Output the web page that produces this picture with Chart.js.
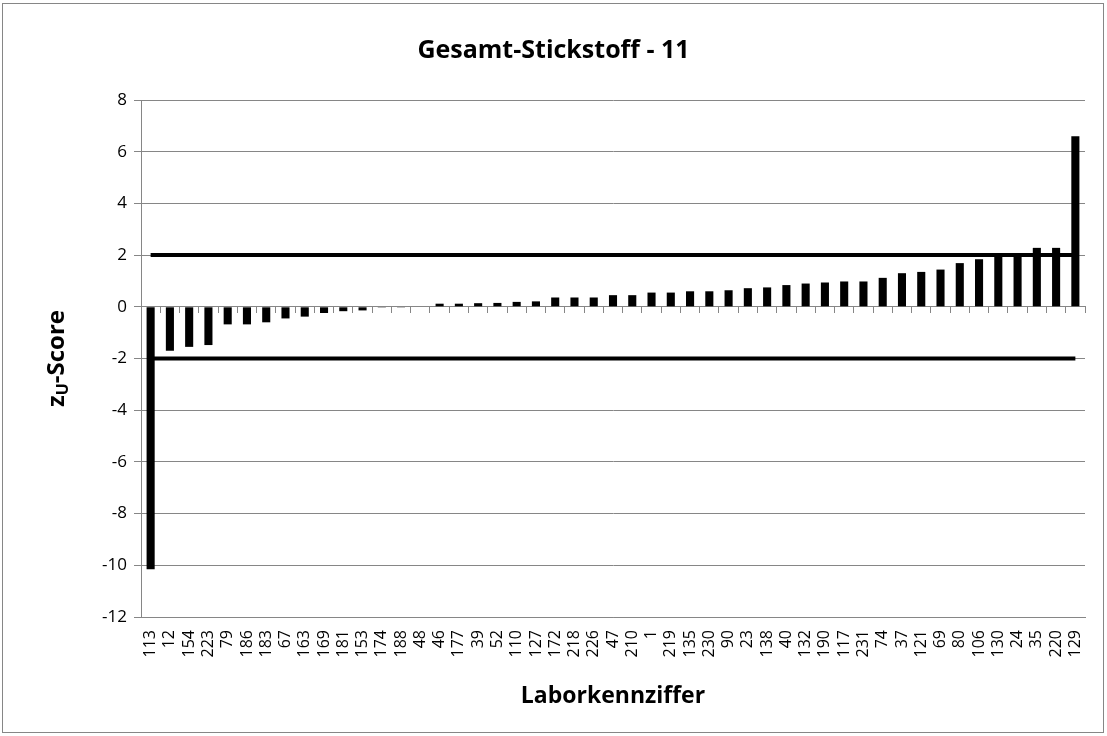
<!DOCTYPE html>
<html>
<head>
<meta charset="utf-8">
<script src="https://cdn.jsdelivr.net/npm/chart.js@4.4.1/dist/chart.umd.min.js"></script>
<style>
  html, body { margin: 0; padding: 0; background: #fff; }
  #wrap { width: 1107px; height: 736px; }
</style>
</head>
<body>
<div id="wrap"><canvas id="chart" width="1107" height="736"></canvas></div>
<script>
const labs = ['113', '12', '154', '223', '79', '186', '183', '67', '163', '169', '181', '153', '174', '188', '48',
    '46', '177', '39', '52', '110', '127', '172', '218', '226', '47', '210', '1', '219', '135', '230', '90', '23',
    '138', '40', '132', '190', '117', '231', '74', '37', '121', '69', '80', '106', '130', '24', '35', '220', '129'];

const zScores = [-10.15, -1.7, -1.55, -1.48, -0.68, -0.68, -0.6, -0.45, -0.38, -0.24, -0.17, -0.14, -0.03, -0.01, 0,
    0.12, 0.12, 0.14, 0.15, 0.19, 0.21, 0.36, 0.36, 0.36, 0.45, 0.45, 0.55, 0.55, 0.6, 0.6, 0.64, 0.72,
    0.75, 0.84, 0.9, 0.94, 0.98, 0.98, 1.12, 1.3, 1.35, 1.44, 1.69, 1.84, 1.95, 1.97, 2.28, 2.28, 6.6];

const upperLimit = labs.map(() => 2);
const lowerLimit = labs.map(() => -2);

const yTicks = { min: -12, max: 8, step: 2 };

const gridGrey = '#868686';
const sans = '"Open Sans"';

// outer frame and the y title with its subscript
const decor = {
    id: 'decor',
    beforeDraw(chart) {
        const ctx = chart.ctx;
        ctx.save();
        ctx.fillStyle = '#fff';
        ctx.fillRect(0, 0, chart.width, chart.height);
        ctx.strokeStyle = gridGrey;
        ctx.lineWidth = 1;
        ctx.strokeRect(2.5, 3.5, 1101, 729);
        ctx.restore();
    },
    afterDraw(chart) {
        const ctx = chart.ctx;
        const area = chart.chartArea;
        ctx.save();
        ctx.translate(57, (area.top + area.bottom) / 2);
        ctx.rotate(-Math.PI / 2);
        ctx.fillStyle = '#000';
        ctx.textBaseline = 'middle';
        const big = 'bold 24px ' + sans;
        const small = 'bold 16px ' + sans;
        ctx.font = big;
        const w1 = ctx.measureText('z').width;
        const w3 = ctx.measureText('-Score').width;
        ctx.font = small;
        const w2 = ctx.measureText('U').width;
        let x = -(w1 + w2 + w3) / 2;
        ctx.font = big;
        ctx.fillText('z', x, 0);
        x += w1;
        ctx.font = small;
        ctx.fillText('U', x, 6);
        x += w2;
        ctx.font = big;
        ctx.fillText('-Score', x, 0);
        ctx.restore();
    }
};

new Chart(document.getElementById('chart'), {
    type: 'bar',
    data: {
        labels: labs,
        datasets: [{
            type: 'line',
            data: upperLimit,
            borderColor: '#000',
            borderWidth: 4,
            pointRadius: 0,
            fill: false,
            order: 2
        }, {
            type: 'line',
            data: lowerLimit,
            borderColor: '#000',
            borderWidth: 4,
            pointRadius: 0,
            fill: false,
            order: 2
        }, {
            data: zScores,
            backgroundColor: '#000',
            borderWidth: 0,
            barPercentage: 0.42,
            categoryPercentage: 1,
            order: 1
        }]
    },
    options: {
        responsive: false,
        maintainAspectRatio: false,
        animation: false,
        layout: { padding: 0 },
        plugins: {
            legend: { display: false },
            tooltip: { enabled: false },
            title: {
                display: true,
                text: 'Gesamt-Stickstoff - 11',
                color: '#000',
                font: { family: sans, size: 25, weight: 'bold', lineHeight: 1.2 },
                padding: { top: 36, bottom: 34 }
            }
        },
        scales: {
            x: {
                offset: true,
                grid: { display: false },
                border: { display: true, color: gridGrey },
                ticks: {
                    color: '#000',
                    font: { family: sans, size: 16 },
                    minRotation: 90,
                    maxRotation: 90,
                    autoSkip: false,
                    padding: 5
                },
                title: {
                    display: true,
                    text: 'Laborkennziffer',
                    color: '#000',
                    font: { family: sans, size: 23, weight: 'bold', lineHeight: 1.2 },
                    padding: { top: 0, bottom: 26 }
                },
                afterFit(scale) { scale.height = 119; }
            },
            x0: {
                axis: 'x',
                type: 'category',
                position: { y: 0 },
                offset: true,
                grid: { offset: true, drawOnChartArea: false, drawTicks: true, tickLength: 6, color: gridGrey },
                border: { display: true, color: gridGrey },
                ticks: { display: false, autoSkip: false }
            },
            y: {
                min: yTicks.min,
                max: yTicks.max,
                grid: { color: gridGrey, tickLength: 7 },
                border: { color: gridGrey },
                ticks: {
                    stepSize: yTicks.step,
                    color: '#000',
                    font: { family: sans, size: 17 },
                    padding: 7
                },
                afterFit(scale) { scale.width = 141; }
            },
            // empty strip on the right so the title stays centred on the whole frame
            yRight: {
                axis: 'y',
                position: 'right',
                display: true,
                grid: { display: false },
                border: { display: false },
                ticks: { display: false },
                afterFit(scale) { scale.width = 22; }
            }
        }
    },
    plugins: [decor]
});
</script>
</body>
</html>
